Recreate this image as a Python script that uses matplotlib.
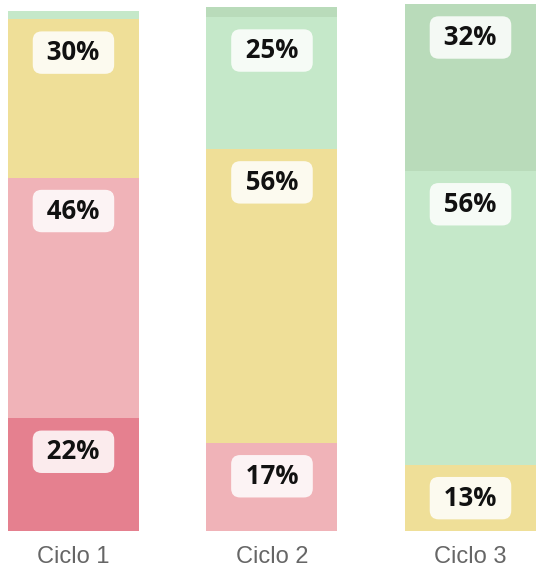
import matplotlib
matplotlib.use("Agg")
import matplotlib.pyplot as plt
import numpy as np

categories = ["Ciclo 1", "Ciclo 2", "Ciclo 3"]
# stacked segments, bottom to top
seg_darkpink = [21.6, 0.0, 0.0]
seg_pink = [46.2, 16.9, 0.0]
seg_yellow = [30.4, 56.4, 12.7]
seg_lightgreen = [1.6, 25.3, 56.4]
seg_darkgreen = [0.0, 1.9, 32.0]

series = [seg_darkpink, seg_pink, seg_yellow, seg_lightgreen, seg_darkgreen]
colors = ["#E5808F", "#F0B3B8", "#EFDF98", "#C5E8C9", "#B9DBBA"]

W, H = 537, 573
fig = plt.figure(figsize=(W / 100, H / 100), dpi=100)
ax = fig.add_axes([0, 42 / H, 1, 531 / H])

x = np.arange(len(categories))
bottom = np.zeros(len(categories))
for vals, col in zip(series, colors):
    vals = np.array(vals)
    ax.bar(x, vals, bottom=bottom, width=0.66, color=col, linewidth=0)
    for i, v in enumerate(vals):
        if v >= 5:
            top = bottom[i] + v
            ax.annotate(f" {round(v)}% ", xy=(x[i], top), xytext=(0, -24),
                        textcoords="offset points", ha="center", va="center",
                        fontsize=18.5, fontweight="bold", family="Open Sans",
                        color="#111111",
                        bbox=dict(boxstyle="round,pad=0.3,rounding_size=0.35",
                                  fc="white", ec="none", alpha=0.85))
    bottom += vals

ax.set_xlim(-0.37, 2.335)
ax.set_ylim(0, 101.9)
ax.set_xticks(x)
ax.set_xticklabels(categories, fontsize=17, family="Liberation Sans", color="#666666")
ax.tick_params(axis="x", length=0, pad=11)
ax.set_yticks([])
for s in ax.spines.values():
    s.set_visible(False)

fig.savefig("out.png", dpi=100)
